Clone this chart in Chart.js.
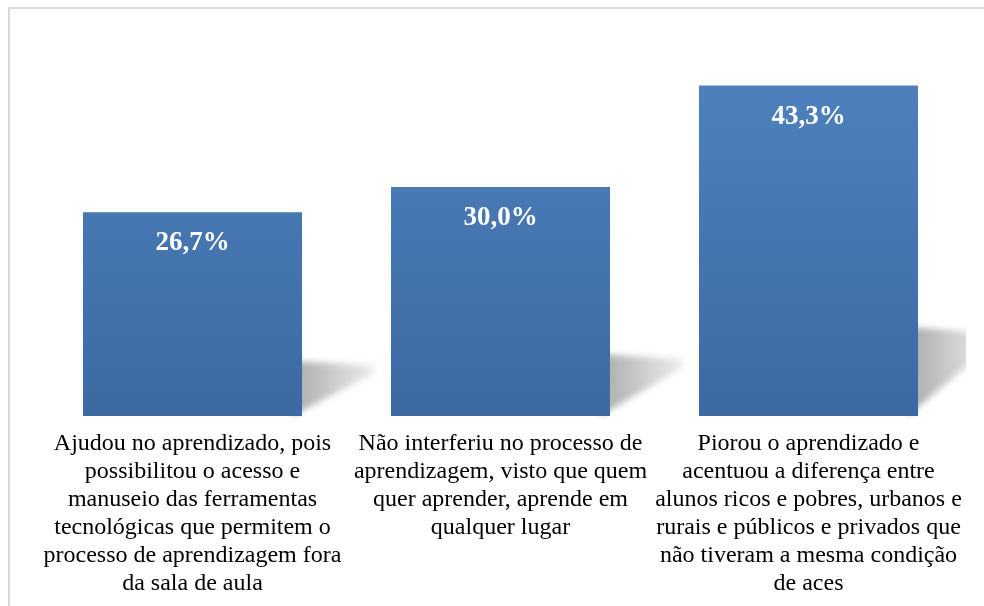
<!DOCTYPE html>
<html>
<head>
<meta charset="utf-8">
<script src="https://cdn.jsdelivr.net/npm/chart.js@4/dist/chart.umd.min.js"></script>
<style>
  html, body { margin: 0; padding: 0; background: #fff; overflow: hidden; }
  #frame {
    position: absolute; left: 8px; top: 7px;
    width: 1000px; height: 620px;
    border: 2px solid #d9d9d9;
  }
  #wrap { position: absolute; left: 0; top: 0; width: 984px; height: 606px; }
</style>
</head>
<body>
<div id="frame"></div>
<div id="wrap"><canvas id="bars"></canvas></div>
<script>
// Categories (multi-line labels) and percentage values
var categories = [
    ["Ajudou no aprendizado, pois", "possibilitou o acesso e", "manuseio das ferramentas",
     "tecnológicas que permitem o", "processo de aprendizagem fora", "da sala de aula"],
    ["Não interferiu no processo de", "aprendizagem, visto que quem", "quer aprender, aprende em",
     "qualquer lugar"],
    ["Piorou o aprendizado e", "acentuou a diferença entre", "alunos ricos e pobres, urbanos e",
     "rurais e públicos e privados que", "não tiveram a mesma condição", "de aces"]
];
var percentValues = [26.7, 30.0, 43.3];

// vertical blue gradient for the bars
function barGradient(context) {
    var chart = context.chart;
    var area = chart.chartArea;
    if (!area) return '#4a7ab5';
    var g = chart.ctx.createLinearGradient(0, area.top, 0, area.bottom);
    g.addColorStop(0, '#5084c0');
    g.addColorStop(1, '#3c69a2');
    return g;
}

// soft grey wedge shadow behind each bar
var shadowPlugin = {
    id: 'barShadow',
    beforeDatasetsDraw: function(chart) {
        var ctx = chart.ctx;
        var meta = chart.getDatasetMeta(0);
        ctx.save();
        ctx.beginPath();
        ctx.rect(0, 0, 966, chart.height);
        ctx.clip();
        ctx.filter = 'blur(3px)';
        meta.data.forEach(function(bar) {
            var right = bar.x + bar.width / 2;
            var bottom = bar.base;
            var h = bar.base - bar.y;
            var g = ctx.createLinearGradient(right, 0, right + 75, 0);
            g.addColorStop(0, 'rgba(0,0,0,0.30)');
            g.addColorStop(1, 'rgba(0,0,0,0.06)');
            ctx.fillStyle = g;
            ctx.beginPath();
            ctx.moveTo(right - 10, bottom - h * 0.27);
            ctx.lineTo(right + 72, bottom - h * 0.25);
            ctx.lineTo(right + 72, bottom - h * 0.21);
            ctx.lineTo(right - 10, bottom);
            ctx.closePath();
            ctx.fill();
        });
        ctx.restore();
    }
};

// white value labels near the top inside each bar
var valueLabelPlugin = {
    id: 'valueLabels',
    afterDatasetsDraw: function(chart) {
        var ctx = chart.ctx;
        var meta = chart.getDatasetMeta(0);
        ctx.save();
        ctx.fillStyle = '#ffffff';
        ctx.font = 'bold 27px "Liberation Serif", "Times New Roman", serif';
        ctx.textAlign = 'center';
        ctx.textBaseline = 'middle';
        meta.data.forEach(function(bar, i) {
            var txt = percentValues[i].toFixed(1).replace('.', ',') + '%';
            ctx.fillText(txt, bar.x, bar.y + 31);
        });
        ctx.restore();
    }
};

var ctx = document.getElementById('bars');
var barChart = new Chart(ctx, {
    type: 'bar',
    data: {
        labels: categories,
        datasets: [{
            data: percentValues,
            backgroundColor: barGradient,
            borderWidth: 0,
            barPercentage: 0.711,
            categoryPercentage: 1.0
        }]
    },
    options: {
        responsive: true,
        maintainAspectRatio: false,
        animation: false,
        layout: {
            padding: { left: 38.5, right: 21.5, top: 34.5, bottom: 0 }
        },
        plugins: {
            legend: { display: false },
            tooltip: { enabled: false }
        },
        scales: {
            y: {
                display: false,
                min: 0,
                max: 50
            },
            x: {
                grid: { display: false },
                border: { display: false },
                afterFit: function(scale) { scale.height = 190; },
                ticks: {
                    color: '#000000',
                    autoSkip: false,
                    maxRotation: 0,
                    minRotation: 0,
                    padding: 6,
                    font: { family: '"Liberation Serif", "Times New Roman", serif', size: 24, lineHeight: '28px' }
                }
            }
        }
    },
    plugins: [shadowPlugin, valueLabelPlugin]
});
</script>
</body>
</html>
